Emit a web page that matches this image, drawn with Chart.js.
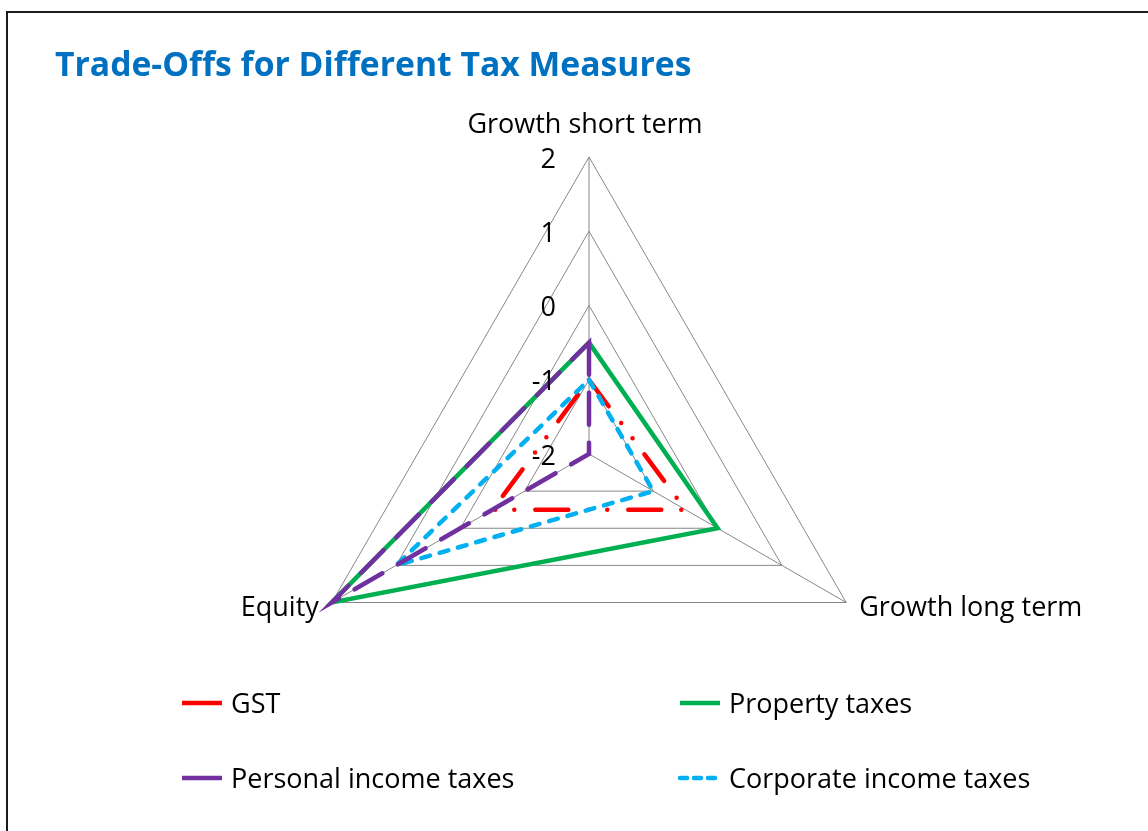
<!DOCTYPE html>
<html>
<head>
<meta charset="utf-8">
<title>Trade-Offs for Different Tax Measures</title>
<script src="https://cdn.jsdelivr.net/npm/chart.js@4.4.0/dist/chart.umd.min.js"></script>
<style>
	html, body { margin: 0; padding: 0; background: #fff; overflow: hidden; }
	body { width: 1148px; height: 831px; position: relative; }
	.frame { position: absolute; left: 6px; top: 11px; width: 1200px; height: 900px; border: 2px solid #1c1c1c; box-sizing: border-box; }
	#radar { position: absolute; left: 0; top: 0; }
</style>
</head>
<body>
<div class="frame"></div>
<canvas id="radar" width="1148" height="831"></canvas>
<script>
"use strict";

const chartTitle = 'Trade-Offs for Different Tax Measures';
const categories = ['Growth short term', 'Growth long term', 'Equity'];
const seriesNames = ['GST', 'Property taxes', 'Personal income taxes', 'Corporate income taxes'];
const gstValues = [-1, -0.5, -0.5];
const propertyValues = [-0.5, 0, 2];
const personalValues = [-0.5, -2, 2];
const corporateValues = [-1, -1, 1];
const tickLabels = [-2, -1, 0, 1, 2];

const FONT = '"Open Sans", "Noto Sans", sans-serif';

// titles, axis labels and legend drawn on top of the radar
const textPlugin = {
	id: 'radarText',
	afterDraw(chart) {
		const ctx = chart.ctx;
		const scale = chart.scales.r;
		ctx.save();

		ctx.fillStyle = '#0070C0';
		ctx.font = 'bold 33.7px ' + FONT;
		ctx.textAlign = 'left';
		ctx.textBaseline = 'alphabetic';
		ctx.fillText(chartTitle, 55, 76);

		ctx.fillStyle = '#000';
		ctx.font = '27px ' + FONT;

		// tick labels, right aligned left of the vertical axis
		ctx.textAlign = 'right';
		ctx.textBaseline = 'middle';
		tickLabels.forEach((v) => {
			const d = scale.getDistanceFromCenterForValue(v);
			ctx.fillText(String(v), scale.xCenter - 33, scale.yCenter - d + 3);
		});

		// point labels
		ctx.textBaseline = 'alphabetic';
		categories.forEach((label, i) => {
			const p = scale.getPointPosition(i, scale.drawingArea);
			if (Math.abs(p.x - scale.xCenter) < 2) {
				ctx.textAlign = 'center';
				ctx.fillText(label, p.x - 4, p.y - 24);
			} else if (p.x < scale.xCenter) {
				ctx.textAlign = 'right';
				ctx.fillText(label, p.x - 13, p.y + 13);
			} else {
				ctx.textAlign = 'left';
				ctx.fillText(label, p.x + 13, p.y + 13);
			}
		});

		// legend, two columns
		const colX = [182, 680];
		const rowY = [703, 778];
		chart.data.datasets.forEach((ds, i) => {
			const x = colX[i % 2];
			const y = rowY[Math.floor(i / 2)];
			ctx.strokeStyle = ds.borderColor;
			ctx.lineWidth = 4.5;
			ctx.lineCap = ds.legendDash ? 'round' : 'butt';
			ctx.setLineDash(ds.legendDash || []);
			ctx.beginPath();
			ctx.moveTo(x, y);
			ctx.lineTo(x + 40, y);
			ctx.stroke();
			ctx.setLineDash([]);
			ctx.textAlign = 'left';
			ctx.fillText(ds.label, x + 49, y + 10);
		});

		ctx.restore();
	}
};

function eventHandler() {
	const datasets = [
		{
			label: seriesNames[0],
			data: gstValues,
			borderColor: '#FF0000',
			borderDash: [33, 21, 0, 19, 0, 20],
			borderCapStyle: 'round',
			order: 3
		},
		{
			label: seriesNames[1],
			data: propertyValues,
			borderColor: '#00B050',
			order: 4
		},
		{
			label: seriesNames[2],
			data: personalValues,
			borderColor: '#7030A0',
			borderDash: [32, 18],
			borderCapStyle: 'round',
			order: 1
		},
		{
			label: seriesNames[3],
			data: corporateValues,
			borderColor: '#00B0F0',
			borderDash: [9, 10],
			borderCapStyle: 'round',
			legendDash: [7, 7],
			order: 2
		}
	];

	new Chart(document.getElementById('radar'), {
		type: 'radar',
		data: {
			labels: categories,
			datasets: datasets
		},
		options: {
			responsive: false,
			animation: false,
			layout: {
				padding: { top: 157, bottom: 80, left: 189, right: 159 }
			},
			elements: {
				line: { borderWidth: 4.5, tension: 0, fill: false, borderJoinStyle: 'miter' },
				point: { radius: 0, hoverRadius: 0 }
			},
			plugins: {
				legend: { display: false },
				title: { display: false },
				tooltip: { enabled: false }
			},
			scales: {
				r: {
					min: -2,
					max: 2,
					ticks: { display: false, stepSize: 1 },
					pointLabels: { display: false },
					grid: { color: '#878787', lineWidth: 1 },
					angleLines: { color: '#878787', lineWidth: 1 }
				}
			}
		},
		plugins: [textPlugin]
	});
}

if (document.readyState !== 'loading') {
	eventHandler();
} else {
	document.addEventListener('DOMContentLoaded', eventHandler);
}
</script>
</body>
</html>
